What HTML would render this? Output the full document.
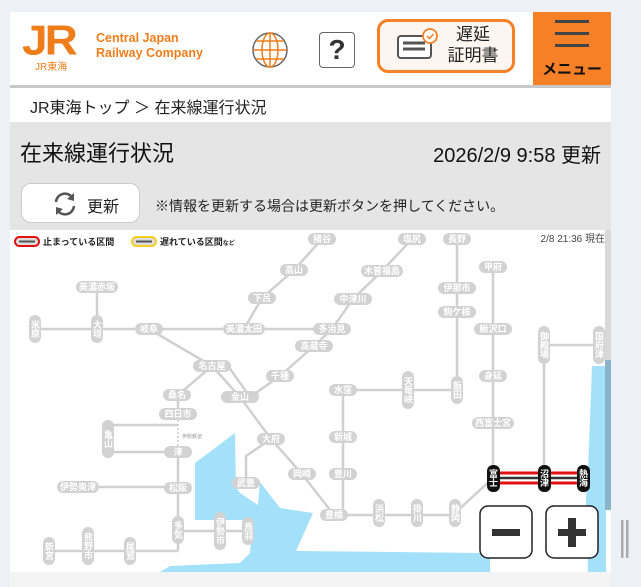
<!DOCTYPE html>
<html><head><meta charset="utf-8"><style>
*{margin:0;padding:0;box-sizing:border-box}
body{width:641px;height:587px;background:#edf1f7;position:relative;overflow:hidden;font-family:"Liberation Sans","Noto Sans CJK JP",sans-serif}
.abs{position:absolute}
</style></head><body>
<div class="abs" style="left:10px;top:12px;width:601px;height:575px;background:#fff"></div>
<div class="abs" style="left:10px;top:85px;width:601px;height:3px;background:#c8c8c8"></div>
<!-- logo -->
<svg class="abs" style="left:10px;top:12px" width="200" height="70">
<text x="12" y="47" font-family="Liberation Sans" font-weight="bold" font-size="46" fill="#f07d1a" transform="scale(1,0.9)" style="letter-spacing:-3px">JR</text>
<text x="25" y="58" font-size="10" fill="#f07d1a" font-family="Liberation Sans,Noto Sans CJK JP,sans-serif">JR東海</text>
<text x="86" y="30" font-size="12.5" font-weight="bold" fill="#f07d1a">Central Japan</text>
<text x="86" y="45" font-size="12.5" font-weight="bold" fill="#f07d1a">Railway Company</text>
</svg>
<!-- globe -->
<svg class="abs" style="left:250px;top:30px" width="40" height="40">
<circle cx="20" cy="20" r="17" fill="#fff" stroke="#666" stroke-width="1.5"/>
<ellipse cx="20" cy="20" rx="8" ry="17" fill="none" stroke="#f07d1a" stroke-width="1.5"/>
<line x1="20" y1="3" x2="20" y2="37" stroke="#f07d1a" stroke-width="1.5"/>
<line x1="3" y1="20" x2="37" y2="20" stroke="#f07d1a" stroke-width="1.5"/>
<line x1="6" y1="11" x2="34" y2="11" stroke="#f07d1a" stroke-width="1.5"/>
<line x1="6" y1="29" x2="34" y2="29" stroke="#f07d1a" stroke-width="1.5"/>
</svg>
<div class="abs" style="left:319px;top:32px;width:36px;height:36px;border:1.5px solid #666;border-radius:4px;text-align:center;font-size:28px;line-height:34px;font-weight:bold;color:#333">?</div>
<div class="abs" style="left:377px;top:19px;width:138px;height:54px;border:3px solid #f58025;border-radius:11px;background:#fdf5ef"></div>
<svg class="abs" style="left:395px;top:28px" width="50" height="36">
<rect x="3" y="8" width="33" height="22" rx="3" fill="#fff" stroke="#555" stroke-width="2"/>
<line x1="8" y1="15" x2="30" y2="15" stroke="#555" stroke-width="3"/>
<line x1="8" y1="21" x2="30" y2="21" stroke="#555" stroke-width="3"/>
<circle cx="35" cy="8" r="7" fill="#fff" stroke="#f58025" stroke-width="1.8"/>
<path d="M32 8 L34.5 10.5 L38.5 6" fill="none" stroke="#f58025" stroke-width="1.5"/>
</svg>
<div class="abs" style="left:443px;top:24px;width:60px;text-align:center;font-size:17px;line-height:21px;color:#222">遅延<br>証明書</div>
<div class="abs" style="left:533px;top:12px;width:78px;height:73px;background:#f58025"></div>
<div class="abs" style="left:555px;top:20px;width:34px;height:3px;background:#444"></div>
<div class="abs" style="left:555px;top:32px;width:34px;height:3px;background:#444"></div>
<div class="abs" style="left:555px;top:44px;width:34px;height:3px;background:#444"></div>
<div class="abs" style="left:533px;top:58px;width:78px;text-align:center;font-size:15px;font-weight:bold;color:#111">メニュー</div>
<!-- breadcrumb -->
<div class="abs" style="left:30px;top:94px;font-size:16px;color:#222">JR東海トップ ＞ 在来線運行状況</div>
<div class="abs" style="left:10px;top:122px;width:601px;height:108px;background:#e5e5e5"></div>
<div class="abs" style="left:20px;top:136px;font-size:22px;color:#111">在来線運行状況</div>
<div class="abs" style="left:350px;top:139px;width:251px;text-align:right;font-size:20px;color:#111">2026/2/9 9:58 更新</div>
<div class="abs" style="left:21px;top:183px;width:119px;height:40px;background:#fff;border:1px solid #ccc;border-radius:10px"></div>
<svg class="abs" style="left:52px;top:191px" width="26" height="26">
<path d="M4 11 A9 9 0 0 1 20 6" fill="none" stroke="#555" stroke-width="2.5"/><path d="M22 2 L22 10 L15 8 Z" fill="#555"/>
<path d="M22 15 A9 9 0 0 1 6 20" fill="none" stroke="#555" stroke-width="2.5"/><path d="M4 24 L4 16 L11 18 Z" fill="#555"/>
</svg>
<div class="abs" style="left:87px;top:193px;font-size:16px;color:#222">更新</div>
<div class="abs" style="left:155px;top:196px;font-size:14px;color:#222">※情報を更新する場合は更新ボタンを押してください。</div>
<!-- map -->
<svg class="abs" style="left:0;top:0" width="641" height="587">
<rect x="12" y="230" width="594" height="342" fill="#fff"/>
<path d="M235,433 L236,487 L240,493 L258,505 L260,482 L280,508 L313,513 L296,551 L480,553 L482,545 L490,540 L490,572 L160,572 L170,566 L240,563 L250,553 L253,520 L195,520 L195,463 Z" fill="#a3e0fa"/>
<path d="M592,366 L606,366 L606,572 L588,572 L586,500 L588,470 L590,420 Z" fill="#a3e0fa"/>
<rect x="605" y="230" width="6" height="130" fill="#d8d8d8"/>
<rect x="605" y="360" width="6" height="150" fill="#8db3c8"/>
<g fill="none" stroke="#d0d0d0" stroke-width="2.5">
<polyline points="322,239 294,270 262,298 244,329"/>
<polyline points="412,239 382,271 353,299 332,329 314,346 280,376 250,397"/>
<line x1="457" y1="239" x2="457" y2="390"/>
<line x1="493" y1="267" x2="493" y2="478"/>
<line x1="97" y1="287" x2="97" y2="329"/>
<line x1="35" y1="329" x2="332" y2="329"/>
<polyline points="149,329 212,366 240,397"/>
<line x1="228" y1="366" x2="250" y2="397"/>
<polyline points="240,397 271,439 302,474 334,515"/>
<polyline points="271,439 246,456 246,483"/>
<polyline points="212,366 178,395 178,420"/>
<line x1="178" y1="452" x2="178" y2="551"/>
<polyline points="108,425 178,425"/>
<polyline points="108,452 178,452"/>
<line x1="78" y1="487" x2="178" y2="487"/>
<line x1="178" y1="531" x2="248" y2="531"/>
<line x1="49" y1="551" x2="178" y2="551"/>
<line x1="343" y1="390" x2="457" y2="390"/>
<line x1="343" y1="390" x2="343" y2="515"/>
<line x1="334" y1="515" x2="455" y2="515"/>
<line x1="455" y1="513" x2="493" y2="478"/>
<line x1="544" y1="345" x2="599" y2="345"/>
<line x1="544" y1="345" x2="544" y2="478"/>
</g>
<line x1="178" y1="420" x2="178" y2="452" stroke="#ccc" stroke-width="1.5" stroke-dasharray="2,2"/>
<text x="182" y="438" font-size="5" fill="#999">伊勢鉄道</text>
<line x1="493" y1="473" x2="583" y2="473" stroke="#e31010" stroke-width="3"/>
<line x1="493" y1="483" x2="583" y2="483" stroke="#e31010" stroke-width="3"/>
<line x1="493" y1="478" x2="583" y2="478" stroke="#333" stroke-width="2.5"/>
<g font-size="9" font-weight="bold" fill="#fff" text-anchor="middle" font-family="Liberation Sans,Noto Sans CJK JP,sans-serif">
<!-- horizontal pills -->
<g fill="#d2d2d2">
<rect x="308" y="233" width="28" height="12" rx="6"/><rect x="398" y="233" width="28" height="12" rx="6"/><rect x="443" y="233" width="28" height="12" rx="6"/>
<rect x="280" y="264" width="28" height="12" rx="6"/><rect x="361" y="265" width="42" height="12" rx="6"/><rect x="479" y="261" width="28" height="12" rx="6"/>
<rect x="76" y="281" width="42" height="12" rx="6"/><rect x="438" y="282" width="38" height="12" rx="6"/><rect x="248" y="292" width="28" height="12" rx="6"/>
<rect x="334" y="293" width="38" height="12" rx="6"/><rect x="438" y="306" width="38" height="12" rx="6"/><rect x="135" y="323" width="28" height="12" rx="6"/>
<rect x="223" y="323" width="42" height="12" rx="6"/><rect x="313" y="323" width="38" height="12" rx="6"/><rect x="474" y="323" width="38" height="12" rx="6"/>
<rect x="295" y="340" width="38" height="12" rx="6"/><rect x="193" y="360" width="38" height="12" rx="6"/><rect x="266" y="370" width="28" height="12" rx="6"/>
<rect x="479" y="370" width="28" height="12" rx="6"/><rect x="329" y="384" width="28" height="12" rx="6"/><rect x="163" y="389" width="28" height="12" rx="6"/>
<rect x="221" y="391" width="38" height="12" rx="6"/><rect x="159" y="408" width="38" height="12" rx="6"/><rect x="472" y="417" width="42" height="12" rx="6"/>
<rect x="257" y="433" width="28" height="12" rx="6"/><rect x="329" y="431" width="28" height="12" rx="6"/><rect x="164" y="446" width="28" height="12" rx="6"/>
<rect x="288" y="468" width="28" height="12" rx="6"/><rect x="329" y="468" width="28" height="12" rx="6"/><rect x="232" y="477" width="28" height="12" rx="6"/>
<rect x="57" y="481" width="42" height="12" rx="6"/><rect x="164" y="482" width="28" height="12" rx="6"/><rect x="320" y="509" width="28" height="12" rx="6"/>
</g>
<text x="322" y="242">猪谷</text><text x="412" y="242">塩尻</text><text x="457" y="242">長野</text>
<text x="294" y="273">高山</text><text x="382" y="274">木曽福島</text><text x="493" y="270">甲府</text>
<text x="97" y="290">美濃赤坂</text><text x="457" y="291">伊那市</text><text x="262" y="301">下呂</text>
<text x="353" y="302">中津川</text><text x="457" y="315">駒ケ根</text><text x="149" y="332">岐阜</text>
<text x="244" y="332">美濃太田</text><text x="332" y="332">多治見</text><text x="493" y="332">鰍沢口</text>
<text x="314" y="349">高蔵寺</text><text x="212" y="369">名古屋</text><text x="280" y="379">千種</text>
<text x="493" y="379">身延</text><text x="343" y="393">水窪</text><text x="177" y="398">桑名</text>
<text x="240" y="400">金山</text><text x="178" y="417">四日市</text><text x="493" y="426">西富士宮</text>
<text x="271" y="442">大府</text><text x="343" y="440">新城</text><text x="178" y="455">津</text>
<text x="302" y="477">岡崎</text><text x="343" y="477">豊川</text><text x="246" y="486">武豊</text>
<text x="78" y="490">伊勢奥津</text><text x="178" y="491">松阪</text><text x="334" y="518">豊橋</text>
<!-- vertical pills -->
<g fill="#d2d2d2">
<rect x="29" y="315" width="12" height="28" rx="6"/><rect x="91" y="315" width="12" height="28" rx="6"/>
<rect x="538" y="326" width="12" height="38" rx="6"/><rect x="593" y="326" width="12" height="38" rx="6"/>
<rect x="402" y="371" width="12" height="38" rx="6"/><rect x="451" y="376" width="12" height="28" rx="6"/>
<rect x="102" y="420" width="12" height="38" rx="6"/><rect x="373" y="499" width="12" height="28" rx="6"/>
<rect x="411" y="499" width="12" height="28" rx="6"/><rect x="449" y="499" width="12" height="28" rx="6"/>
<rect x="172" y="516" width="12" height="28" rx="6"/><rect x="214" y="512" width="12" height="38" rx="6"/>
<rect x="242" y="517" width="12" height="28" rx="6"/><rect x="43" y="537" width="12" height="28" rx="6"/>
<rect x="82" y="527" width="12" height="38" rx="6"/><rect x="124" y="537" width="12" height="28" rx="6"/>
</g>
<g fill="#111"><rect x="487" y="465" width="13" height="27" rx="6"/><rect x="538" y="465" width="13" height="27" rx="6"/><rect x="577" y="465" width="13" height="27" rx="6"/></g>
<g style="writing-mode:vertical-rl" text-anchor="middle">
<text x="35" y="329">米原</text><text x="97" y="329">大垣</text><text x="544" y="345">御殿場</text><text x="599" y="345">国府津</text>
<text x="408" y="390">天竜峡</text><text x="457" y="390">飯田</text><text x="108" y="439">亀山</text><text x="379" y="513">浜松</text>
<text x="417" y="513">掛川</text><text x="455" y="513">静岡</text><text x="178" y="530">多気</text><text x="220" y="531">伊勢市</text>
<text x="248" y="531">鳥羽</text><text x="49" y="551">新宮</text><text x="88" y="546">熊野市</text><text x="130" y="551">尾鷲</text>
<text x="493" y="478">富士</text><text x="544" y="478">沼津</text><text x="583" y="478">熱海</text>
</g>
</g>
<!-- legend -->
<rect x="15" y="237" width="24" height="9" rx="4.5" fill="#ddd" stroke="#e31010" stroke-width="2"/><line x1="19" y1="241.5" x2="35" y2="241.5" stroke="#555" stroke-width="2"/>
<text x="43" y="245" font-size="9" font-weight="bold" fill="#222">止まっている区間</text>
<rect x="132" y="237" width="24" height="9" rx="4.5" fill="#ddd" stroke="#f5d020" stroke-width="2"/><line x1="136" y1="241.5" x2="152" y2="241.5" stroke="#555" stroke-width="2"/>
<text x="160" y="245" font-size="9" font-weight="bold" fill="#222">遅れている区間<tspan font-size="6">など</tspan></text>
<text x="605" y="242" font-size="10" fill="#444" text-anchor="end">2/8 21:36 現在</text>
<!-- zoom buttons -->
<rect x="480" y="506" width="52" height="52" rx="8" fill="#fff" stroke="#222" stroke-width="1.5"/>
<rect x="492" y="529" width="28" height="7" fill="#333"/>
<rect x="546" y="506" width="52" height="52" rx="8" fill="#fff" stroke="#222" stroke-width="1.5"/>
<rect x="558" y="529" width="28" height="7" fill="#333"/><rect x="568" y="518" width="8" height="29" fill="#333"/>
<rect x="10" y="572" width="601" height="15" fill="#f3f3f3"/>
<rect x="621" y="520" width="2.5" height="38" fill="#aaa"/><rect x="626" y="520" width="2.5" height="38" fill="#aaa"/>
</svg>
</body></html>
